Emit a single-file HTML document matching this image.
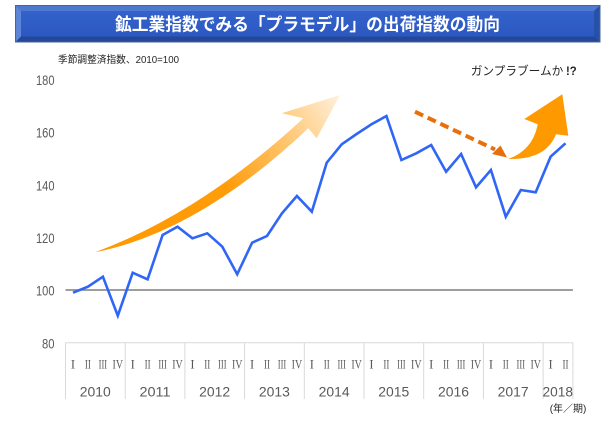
<!DOCTYPE html>
<html>
<head>
<meta charset="utf-8">
<style>
  html, body { margin:0; padding:0; background:#ffffff; }
  svg { display:block; }
  .jp { font-family: "Liberation Sans", "Noto Sans CJK JP", sans-serif; }
</style>
</head>
<body>
<svg width="615" height="426" viewBox="0 0 615 426" xmlns="http://www.w3.org/2000/svg">
  <defs>
    <linearGradient id="face" x1="0" y1="0" x2="0" y2="1">
      <stop offset="0" stop-color="#3362cc"/>
      <stop offset="1" stop-color="#2c58c0"/>
    </linearGradient>
    <linearGradient id="arr1" gradientUnits="userSpaceOnUse" x1="95" y1="252" x2="340" y2="95">
      <stop offset="0" stop-color="#ff9900"/>
      <stop offset="0.5" stop-color="#ff9c0a"/>
      <stop offset="0.75" stop-color="#ffc46a"/>
      <stop offset="1" stop-color="#fff1de"/>
    </linearGradient>
  </defs>
  <rect width="615" height="426" fill="#ffffff"/>

  <!-- Title bar -->
  <rect x="15" y="5" width="585.5" height="37.5" fill="#4a6494"/>
  <polygon points="16,6 599.5,6 594,11 21,11" fill="#4f78cf"/>
  <polygon points="16,6 21,11 21,36.5 16,41.5" fill="#5d86d8"/>
  <polygon points="599.5,6 599.5,41.5 594,36.5 594,11" fill="#2750a8"/>
  <polygon points="16,41.5 21,36.5 594,36.5 599.5,41.5" fill="#24479a"/>
  <rect x="21" y="11" width="573" height="25.5" fill="url(#face)"/>
  <text x="307.5" y="30.5" text-anchor="middle" class="jp" font-size="17.5" font-weight="bold" fill="#ffffff" textLength="385" lengthAdjust="spacingAndGlyphs">鉱工業指数でみる「プラモデル」の出荷指数の動向</text>

  <!-- subtitle -->
  <text x="58" y="63" class="jp" font-size="10" fill="#262626" textLength="121" lengthAdjust="spacingAndGlyphs">季節調整済指数、2010=100</text>

  <!-- annotation -->
  <text x="470.7" y="75" class="jp" font-size="12" fill="#262626" textLength="92.6" lengthAdjust="spacingAndGlyphs">ガンプラブームか</text>
  <text x="566" y="75" class="jp" font-size="12" font-weight="bold" fill="#262626" textLength="10.7" lengthAdjust="spacingAndGlyphs">!?</text>

  <!-- y labels -->
  <g class="jp" font-size="13.5" fill="#595959" text-anchor="end">
    <text x="54.5" y="84.8" textLength="18.5" lengthAdjust="spacingAndGlyphs">180</text>
    <text x="54.5" y="137.5" textLength="18.5" lengthAdjust="spacingAndGlyphs">160</text>
    <text x="54.5" y="190.5" textLength="18.5" lengthAdjust="spacingAndGlyphs">140</text>
    <text x="54.5" y="243" textLength="18.5" lengthAdjust="spacingAndGlyphs">120</text>
    <text x="54.5" y="295.5" textLength="18.5" lengthAdjust="spacingAndGlyphs">100</text>
    <text x="54.5" y="348.5" textLength="12.5" lengthAdjust="spacingAndGlyphs">80</text>
  </g>

  <!-- category axis grid -->
  <g stroke="#d9d9d9" stroke-width="1" fill="none">
    <line x1="65.5" y1="342.7" x2="572.9" y2="342.7"/>
    <line x1="65.5" y1="342.7" x2="65.5" y2="399"/>
    <line x1="125.2" y1="342.7" x2="125.2" y2="399"/>
    <line x1="184.9" y1="342.7" x2="184.9" y2="399"/>
    <line x1="244.6" y1="342.7" x2="244.6" y2="399"/>
    <line x1="304.3" y1="342.7" x2="304.3" y2="399"/>
    <line x1="364.0" y1="342.7" x2="364.0" y2="399"/>
    <line x1="423.7" y1="342.7" x2="423.7" y2="399"/>
    <line x1="483.4" y1="342.7" x2="483.4" y2="399"/>
    <line x1="543.1" y1="342.7" x2="543.1" y2="399"/>
    <line x1="572.9" y1="342.7" x2="572.9" y2="399"/>
  </g>

  <!-- roman quarter labels -->
  <g font-family="'Liberation Serif', 'Noto Serif CJK SC', serif" font-size="12.5" fill="#595959" text-anchor="middle">
    <text x="73.0" y="368.6">I</text><text x="87.9" y="368.6" textLength="6" lengthAdjust="spacingAndGlyphs">II</text><text x="102.9" y="368.6" textLength="8.5" lengthAdjust="spacingAndGlyphs">III</text><text x="117.8" y="368.6" textLength="10.5" lengthAdjust="spacingAndGlyphs">IV</text>
    <text x="132.7" y="368.6">I</text><text x="147.6" y="368.6" textLength="6" lengthAdjust="spacingAndGlyphs">II</text><text x="162.6" y="368.6" textLength="8.5" lengthAdjust="spacingAndGlyphs">III</text><text x="177.5" y="368.6" textLength="10.5" lengthAdjust="spacingAndGlyphs">IV</text>
    <text x="192.4" y="368.6">I</text><text x="207.3" y="368.6" textLength="6" lengthAdjust="spacingAndGlyphs">II</text><text x="222.3" y="368.6" textLength="8.5" lengthAdjust="spacingAndGlyphs">III</text><text x="237.2" y="368.6" textLength="10.5" lengthAdjust="spacingAndGlyphs">IV</text>
    <text x="252.1" y="368.6">I</text><text x="267.0" y="368.6" textLength="6" lengthAdjust="spacingAndGlyphs">II</text><text x="282.0" y="368.6" textLength="8.5" lengthAdjust="spacingAndGlyphs">III</text><text x="296.9" y="368.6" textLength="10.5" lengthAdjust="spacingAndGlyphs">IV</text>
    <text x="311.8" y="368.6">I</text><text x="326.7" y="368.6" textLength="6" lengthAdjust="spacingAndGlyphs">II</text><text x="341.7" y="368.6" textLength="8.5" lengthAdjust="spacingAndGlyphs">III</text><text x="356.6" y="368.6" textLength="10.5" lengthAdjust="spacingAndGlyphs">IV</text>
    <text x="371.5" y="368.6">I</text><text x="386.4" y="368.6" textLength="6" lengthAdjust="spacingAndGlyphs">II</text><text x="401.4" y="368.6" textLength="8.5" lengthAdjust="spacingAndGlyphs">III</text><text x="416.3" y="368.6" textLength="10.5" lengthAdjust="spacingAndGlyphs">IV</text>
    <text x="431.2" y="368.6">I</text><text x="446.1" y="368.6" textLength="6" lengthAdjust="spacingAndGlyphs">II</text><text x="461.1" y="368.6" textLength="8.5" lengthAdjust="spacingAndGlyphs">III</text><text x="476.0" y="368.6" textLength="10.5" lengthAdjust="spacingAndGlyphs">IV</text>
    <text x="490.9" y="368.6">I</text><text x="505.8" y="368.6" textLength="6" lengthAdjust="spacingAndGlyphs">II</text><text x="520.8" y="368.6" textLength="8.5" lengthAdjust="spacingAndGlyphs">III</text><text x="535.7" y="368.6" textLength="10.5" lengthAdjust="spacingAndGlyphs">IV</text>
    <text x="550.6" y="368.6">I</text><text x="565.5" y="368.6" textLength="6" lengthAdjust="spacingAndGlyphs">II</text>
  </g>

  <!-- year labels -->
  <g class="jp" font-size="13.5" fill="#595959" text-anchor="middle">
    <text x="95.3" y="396.6" textLength="31" lengthAdjust="spacingAndGlyphs">2010</text>
    <text x="155.0" y="396.6" textLength="31" lengthAdjust="spacingAndGlyphs">2011</text>
    <text x="214.7" y="396.6" textLength="31" lengthAdjust="spacingAndGlyphs">2012</text>
    <text x="274.4" y="396.6" textLength="31" lengthAdjust="spacingAndGlyphs">2013</text>
    <text x="334.1" y="396.6" textLength="31" lengthAdjust="spacingAndGlyphs">2014</text>
    <text x="393.8" y="396.6" textLength="31" lengthAdjust="spacingAndGlyphs">2015</text>
    <text x="453.5" y="396.6" textLength="31" lengthAdjust="spacingAndGlyphs">2016</text>
    <text x="513.2" y="396.6" textLength="31" lengthAdjust="spacingAndGlyphs">2017</text>
    <text x="557.8" y="396.6" textLength="30.5" lengthAdjust="spacingAndGlyphs">2018</text>
  </g>
  <text x="568" y="412" text-anchor="middle" class="jp" font-size="10" fill="#262626" textLength="36.6" lengthAdjust="spacingAndGlyphs">(年／期)</text>

  <!-- 100 baseline -->
  <line x1="65.5" y1="290" x2="572.9" y2="290" stroke="#7f7f7f" stroke-width="1.5"/>

  <!-- big gradient arrow -->
  <path d="M95,252.3 Q201,213 303.3,118.3 L281.7,113.3 L340,95 L316.7,138.3 L308.3,128.3 Q198.5,232 95,252.3 Z" fill="url(#arr1)"/>

  <!-- data line -->
  <polyline fill="none" stroke="#2f66f6" stroke-width="2.6" stroke-linejoin="miter"
    points="73.0,292.7 87.9,286.7 102.9,276.7 117.8,315.7 132.7,272.7 147.6,279.3 162.6,235 177.5,226.7 192.4,238.3 207.3,233.3 222.3,246.7 237.2,274.3 252.1,242.7 267.0,236 282.0,213.3 296.9,196 311.8,211.7 326.7,162.7 341.7,144.3 356.6,134 371.5,124.3 386.4,116 401.4,160 416.3,153.3 431.2,145 446.1,171.7 461.1,154 476.0,187.3 490.9,170 505.8,216.7 520.8,190 535.7,192.3 550.6,156.7 565.5,143.3"/>

  <!-- dashed arrow -->
  <line x1="415" y1="111.7" x2="495" y2="149.5" stroke="#e8700c" stroke-width="4" stroke-dasharray="9 5"/>
  <polygon points="500.5,145.5 492,154 507,157.5" fill="#e8700c"/>

  <!-- curved block arrow -->
  <path d="M508.3,159 Q533,150 537.7,124.3 L524.3,119 L562.3,94.3 L568.3,135.7 L556,134.3 Q546,160 508.3,159 Z" fill="#ff9900"/>
</svg>
</body>
</html>
